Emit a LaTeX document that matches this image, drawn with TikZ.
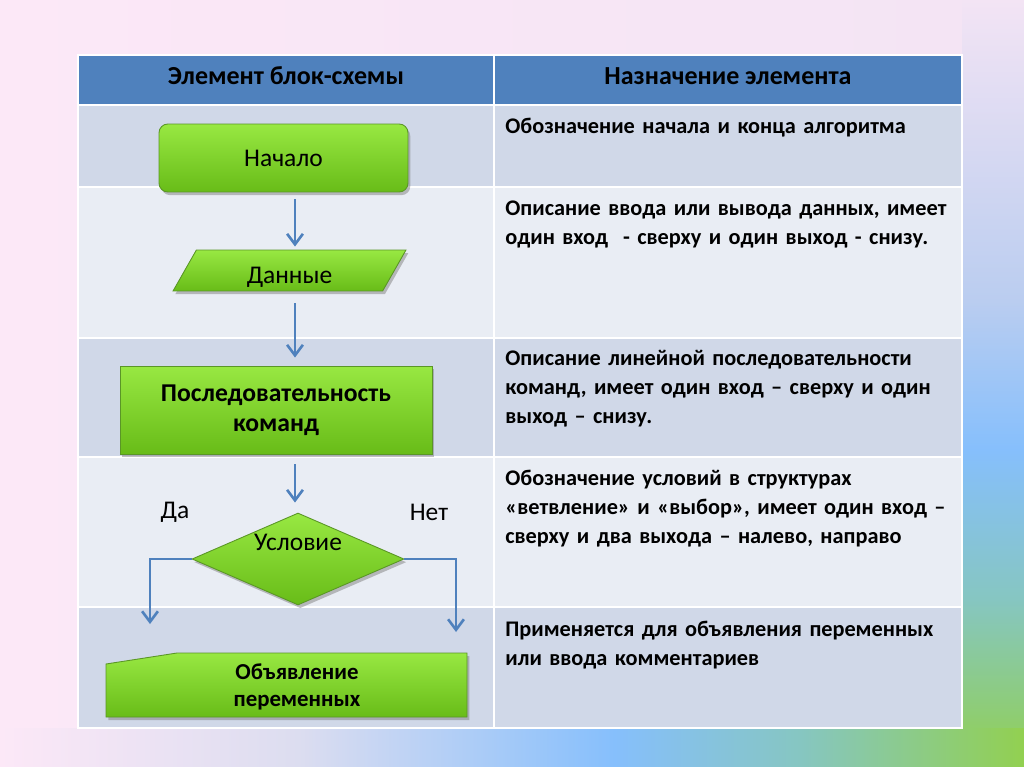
\documentclass[tikz,border=0pt]{standalone}
\usepackage{fontspec}
\setmainfont{Carlito}
\usetikzlibrary{positioning,shapes.geometric,arrows.meta,shadows}

\definecolor{hdrblue}{HTML}{4F81BD}
\definecolor{rowdark}{HTML}{D0D8E8}
\definecolor{rowlight}{HTML}{E9EDF4}
\definecolor{arrowblue}{HTML}{4F81BD}
\definecolor{greentop}{HTML}{98E842}
\definecolor{greenbot}{HTML}{68BC18}
\definecolor{greenedge}{HTML}{5A9626}
\definecolor{pinkbg}{HTML}{FCE8F7}
\definecolor{lavbg}{HTML}{DCDDF0}
\definecolor{bluebg}{HTML}{86BFFC}
\definecolor{tealbg}{HTML}{86C6C2}
\definecolor{greenbg}{HTML}{92D050}
\definecolor{lightbluebg}{HTML}{BACDF0}
\definecolor{toprightbg}{HTML}{F3E4F4}

\pgfdeclarehorizontalshading{bgbottom}{100bp}{color(0bp)=(pinkbg); color(25bp)=(pinkbg);
  color(39.6bp)=(lavbg); color(55bp)=(bluebg); color(64bp)=(tealbg); color(75bp)=(greenbg); color(100bp)=(greenbg)}
\pgfdeclareverticalshading{bgright}{100bp}{color(0bp)=(greenbg); color(25bp)=(greenbg);
  color(36bp)=(tealbg); color(45.7bp)=(bluebg); color(55.4bp)=(lightbluebg); color(75bp)=(toprightbg); color(100bp)=(toprightbg)}

\newcommand\descfont{\fontsize{12.7pt}{16.4pt}\selectfont\bfseries}

\tikzset{
  greenshape/.style={top color=greentop, bottom color=greenbot, draw=greenedge, line width=0.5pt,
    drop shadow={opacity=0.5, shadow xshift=1.3pt, shadow yshift=-1.8pt}},
  flowarrow/.style={draw=arrowblue, line width=1.7pt,
    -{Straight Barb[length=6pt,width=9pt,line width=1.5pt]}},
  desc/.style={anchor=north west, inner sep=0pt, text width=9.15cm, align=left, font=\descfont},
  hdr/.style={font=\fontsize{14.8pt}{17pt}\selectfont\bfseries},
  shapetext/.style={font=\fontsize{14.5pt}{17pt}\selectfont},
}

\begin{document}
\begin{tikzpicture}[x=0.02cm, y=-0.02cm]
  \useasboundingbox (0,0) rectangle (1024,767);
  % background
  \shade[left color=pinkbg, right color=toprightbg] (0,0) rectangle (1024,767);
  \shade[shading=bgright] (962,0) rectangle (1024,767);
  \shade[shading=bgbottom] (0,728) rectangle (1024,767);

  % table
  \fill[hdrblue] (78,55) rectangle (962,105);
  \foreach \ya/\yb/\c in {105/187/rowdark, 187/338/rowlight, 338/457/rowdark, 457/607/rowlight, 607/728/rowdark}
    \fill[\c] (78,\ya) rectangle (962,\yb);
  \foreach \yy in {105,187,338,457,607}
    \draw[white, line width=1.6pt] (78,\yy) -- (962,\yy);
  \draw[white, line width=1.6pt] (494,55) -- (494,728);
  \draw[white, line width=1.6pt] (78,55) rectangle (962,728);

  \node[hdr] (hdrleft) at (286,76) {Элемент блок-схемы};
  \node[hdr] (hdrright) at (728,76) {Назначение элемента};

  \node[desc] (desc1) at (505,113) {\strut Обозначение начала и конца алгоритма};
  \node[desc] (desc2) at (505,195) {\strut Описание ввода или вывода данных, имеет один вход\ \ - сверху и один выход - снизу.};
  \node[desc] (desc3) at (505,345) {\strut Описание линейной последовательности команд, имеет один вход -- сверху и один выход -- снизу.};
  \node[desc] (desc4) at (505,465) {\strut Обозначение условий в структурах «ветвление» и «выбор», имеет один вход~-- сверху и два выхода -- налево, направо};
  \node[desc] (desc5) at (505,616) {\strut Применяется для объявления переменных или ввода комментариев};

  % flowchart elements
  \coordinate (ax) at (295,0);
  \node[greenshape, shapetext, rounded corners=5pt, minimum width=4.98cm, minimum height=1.36cm] (start) at (283.5,158) {Начало};
  \node[greenshape, shapetext, trapezium, trapezium left angle=41, trapezium right angle=139,
    trapezium stretches body, minimum width=4.66cm, minimum height=0.82cm, inner sep=0pt,
    label={[shapetext, yshift=-0.13cm]center:Данные}] (data) at (289.5,270.5) {\phantom{Данные}};
  \node[greenshape, minimum width=6.24cm, minimum height=1.76cm, align=center,
    font=\fontsize{14.6pt}{17pt}\selectfont\bfseries] (seq) at (276,410) {Последовательность\\команд};
  \node[greenshape, shapetext, diamond, aspect=2.3, minimum width=4.24cm, minimum height=1.84cm, inner sep=0pt,
    label={[shapetext, yshift=0.34cm]center:Условие}] (cond) at (298,559) {};
  \draw[greenshape] (106,664) -- (177,653) -- (467,653) -- (467,717) -- (106,717) -- cycle;
  \node[align=center, font=\fontsize{13pt}{15.5pt}\selectfont\bfseries] (decl) at (297,687) {Объявление\\переменных};

  \node[shapetext] (yes) at (175,512) {Да};
  \node[shapetext] (no) at (429,512) {Нет};

  % connectors
  \draw[flowarrow, shorten <=0.14cm, shorten >=0.06cm] (start.south -| ax) -- (data.north -| ax);
  \draw[flowarrow, shorten <=0.24cm, shorten >=0.16cm] (data.south -| ax) -- (seq.north -| ax);
  \draw[flowarrow, shorten <=0.2cm, shorten >=0.2cm] (seq.south -| ax) -- (cond.north -| ax);
  \coordinate (yesend) at (150,624);
  \coordinate (noend) at (456,632);
  \draw[flowarrow] (cond.west) -| (yesend);
  \draw[flowarrow] (cond.east) -| (noend);
\end{tikzpicture}
\end{document}
